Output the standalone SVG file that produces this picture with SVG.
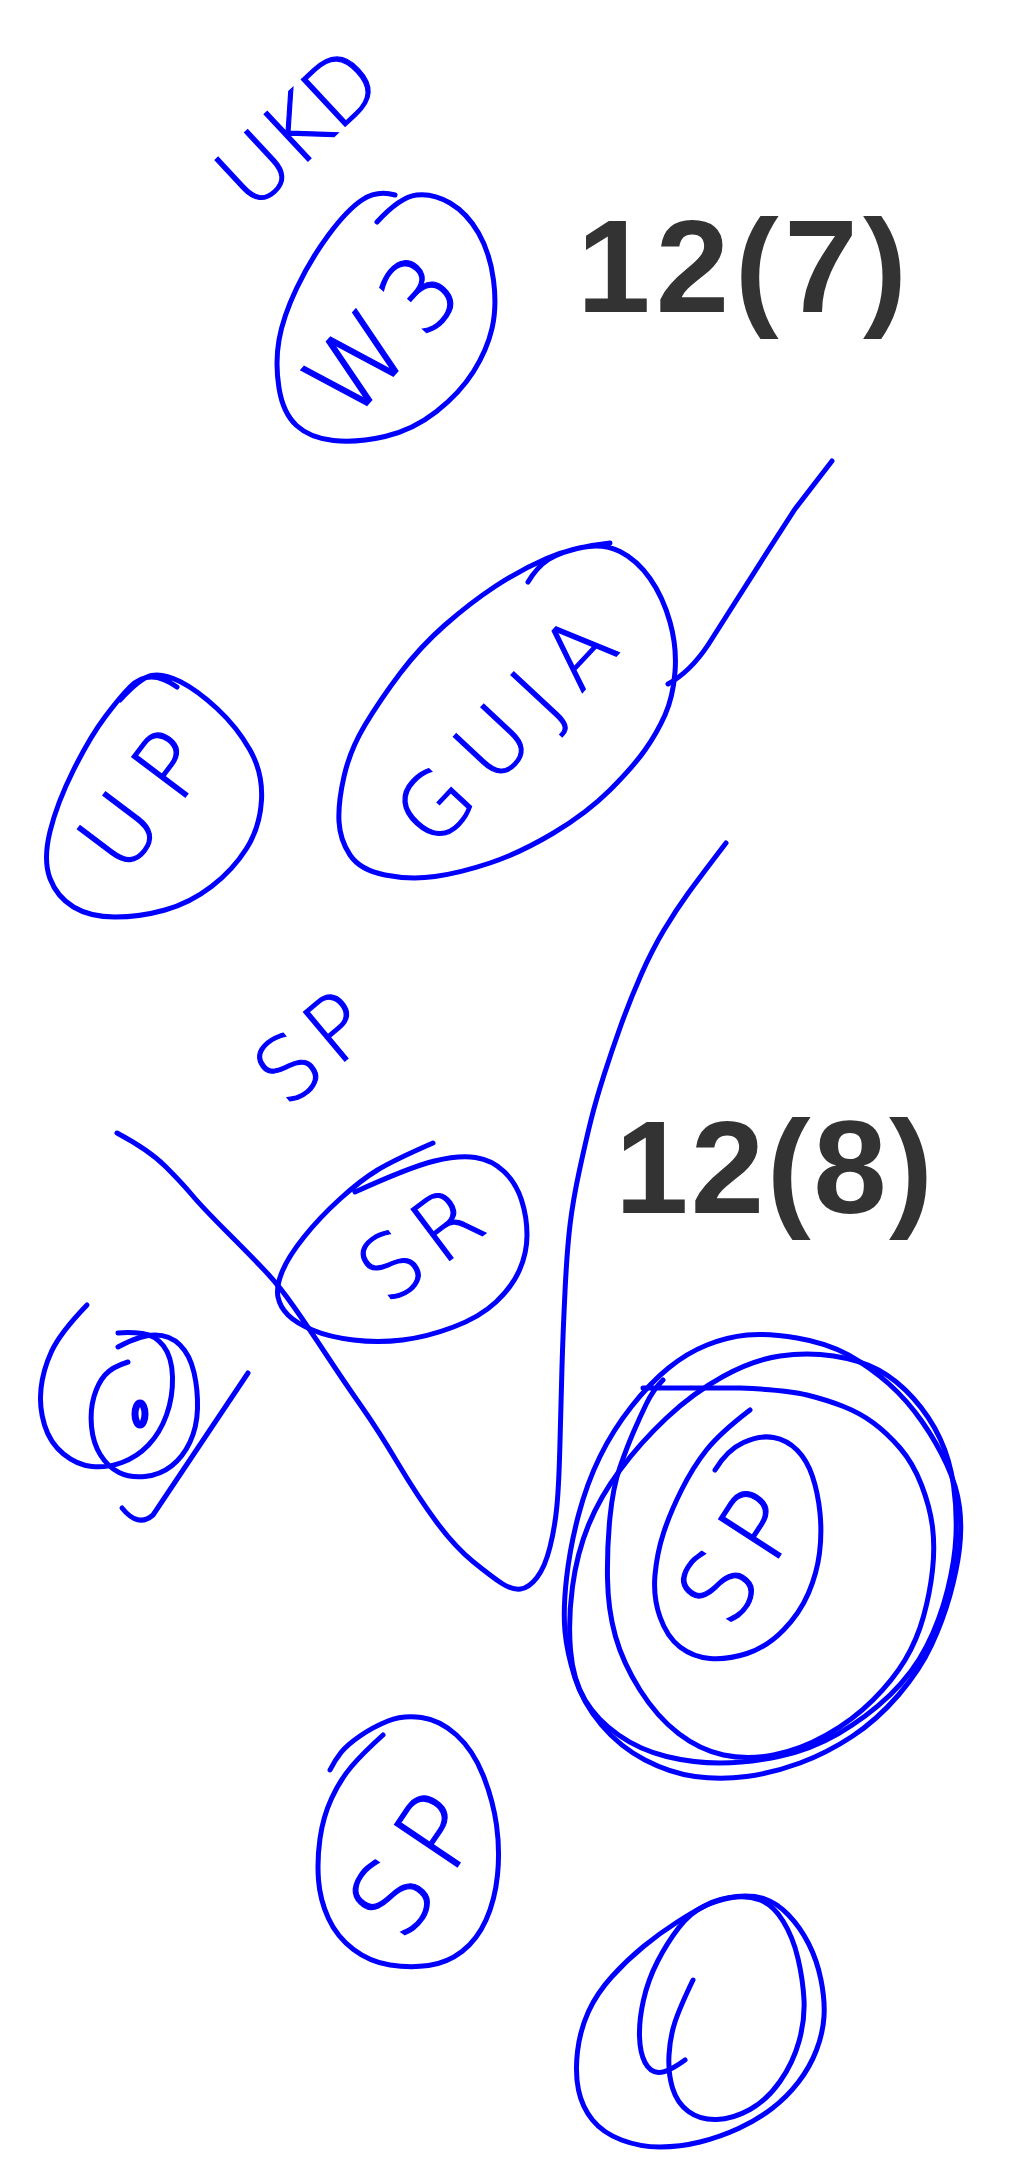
<svg xmlns="http://www.w3.org/2000/svg" width="1018" height="2157" viewBox="0 0 1018 2157">
<style>
.s{fill:none;stroke:#0000ff;stroke-width:5;stroke-linecap:round;stroke-linejoin:round}
.hw{font-family:"DejaVu Sans","Liberation Sans",sans-serif;font-weight:200;fill:#0000ff;stroke:#0000ff;stroke-width:1.2;text-anchor:middle}
.bk{font-family:"Liberation Sans",Arial,sans-serif;font-weight:bold;fill:#333333}
</style>
<rect width="1018" height="2157" fill="#ffffff"/>
<g id="connectors">
<path class="s" d="M832,461 L795,509 L764,557 L729,612 L708,645 Q690,672 668,684"/>
<path class="s" d="M117,1133 Q149,1150 165.5,1166.5 Q182,1183 192,1195 Q202,1207 228.5,1233.5 Q255,1260 267.5,1273.5 Q280,1287 294,1307 Q308,1327 326.5,1355 Q345,1383 361.5,1406.5 Q378,1430 398,1463.5 Q418,1497 436.5,1522 Q455,1547 473.5,1562 Q492,1577 502,1583.5 Q512,1590 520.5,1589 Q529,1588 537,1577.5 Q545,1567 550,1547 Q555,1527 557,1505 Q559,1483 560,1441.5 Q561,1400 562,1366.5 Q563,1333 565,1291.5 Q567,1250 570,1225 Q573,1200 579.5,1170 Q586,1140 591,1120 Q596,1100 604,1075 Q612,1050 621,1025 Q630,1000 641,975 Q652,950 664,930 Q676,910 688,893.5 Q700,877 726,843"/>
</g>
<g id="label-ukd">
<text class="hw" font-size="88" x="0" y="31" textLength="185" lengthAdjust="spacing" transform="translate(298,128) rotate(-43)">UKD</text>
</g>
<g id="node-w3">
<path class="s" d="M377,222 Q400,197 416.5,195 Q433,193 450,203 Q467,213 478.5,233 Q490,253 493.5,280 Q497,307 492,328.5 Q487,350 473.5,371.5 Q460,393 436.5,411.5 Q413,430 385,436.5 Q357,443 333.5,440.5 Q310,438 296.5,425.5 Q283,413 279,388 Q275,363 279,340 Q283,317 296.5,288.5 Q310,260 328.5,235 Q347,210 362,200 Q377,190 395,195"/>
<text class="hw" font-size="100" x="0" y="36" textLength="175" lengthAdjust="spacing" transform="translate(382,335) rotate(-48)">W3</text>
</g>
<g id="label-12-7">
<text class="bk" font-size="132" x="577" y="312" textLength="330" lengthAdjust="spacing">12(7)</text>
</g>
<g id="node-guja">
<path class="s" d="M528,582 Q537,567 548.5,559.5 Q560,552 581.5,547.5 Q603,543 620,551.5 Q637,560 650,578.5 Q663,597 670,622 Q677,647 675,672 Q673,697 665,715 Q657,733 645,750 Q633,767 610,790 Q587,813 553.5,833 Q520,853 490,863 Q460,873 435,876.5 Q410,880 385,875 Q360,870 350,855 Q340,840 339,821.5 Q338,803 344,776.5 Q350,750 365,725 Q380,700 400,673.5 Q420,647 445,625 Q470,603 495,586.5 Q520,570 546.5,558.5 Q573,547 610,543"/>
<text class="hw" font-size="88" x="0" y="31" textLength="275" lengthAdjust="spacing" transform="translate(505,730) rotate(-47)">GUJA</text>
</g>
<g id="node-up">
<path class="s" d="M177,687 Q163,677 151.5,677 Q140,677 130,687 Q120,697 105,717 Q90,737 73.5,770 Q57,803 50,831.5 Q43,860 50,878.5 Q57,897 73.5,907 Q90,917 115,917 Q140,917 165,910 Q190,903 211.5,886.5 Q233,870 246.5,848.5 Q260,827 261.5,800 Q263,773 250,750 Q237,727 217,708.5 Q197,690 180,681.5 Q163,673 151.5,675.5 Q140,678 120,700"/>
<text class="hw" font-size="92" x="0" y="33" textLength="145" lengthAdjust="spacing" transform="translate(142,800) rotate(-53)">UP</text>
</g>
<g id="label-sp">
<text class="hw" font-size="88" x="0" y="31" textLength="118" lengthAdjust="spacing" transform="translate(312,1048) rotate(-40)">SP</text>
</g>
<g id="node-sr">
<path class="s" d="M355,1192 Q410,1167 434.5,1161 Q459,1155 475.5,1157.5 Q492,1160 504,1171.5 Q516,1183 521.5,1200 Q527,1217 527,1235 Q527,1253 519.5,1270 Q512,1287 496,1302 Q480,1317 453.5,1327 Q427,1337 402.5,1340 Q378,1343 353.5,1340 Q329,1337 312.5,1330 Q296,1323 288,1315 Q280,1307 278,1297 Q276,1287 282,1272 Q288,1257 304,1237 Q320,1217 340.5,1198.5 Q361,1180 377.5,1170 Q394,1160 433,1143"/>
<text class="hw" font-size="88" x="0" y="31" textLength="128" lengthAdjust="spacing" transform="translate(420,1244) rotate(-37)">SR</text>
</g>
<g id="label-12-8">
<text class="bk" font-size="132" x="615" y="1213" textLength="318" lengthAdjust="spacing">12(8)</text>
</g>
<g id="spiral">
<path class="s" d="M87,1305 Q60,1333 51.5,1351.5 Q43,1370 41,1388.5 Q39,1407 44.5,1425 Q50,1443 63.5,1454 Q77,1465 92,1466.5 Q107,1468 122,1462.5 Q137,1457 148.5,1445 Q160,1433 166.5,1415 Q173,1397 172.5,1377 Q172,1357 163.5,1346 Q155,1335 142.5,1333.5 Q130,1332 118,1333"/>
<path class="s" d="M118,1347 Q140,1335 155,1335 Q170,1335 180,1345 Q190,1355 194,1372.5 Q198,1390 197.5,1408.5 Q197,1427 190,1442 Q183,1457 171.5,1466 Q160,1475 145,1476.5 Q130,1478 119,1472.5 Q108,1467 100.5,1455 Q93,1443 91.5,1426.5 Q90,1410 94,1396.5 Q98,1383 105,1375 Q112,1367 128,1362"/>
<ellipse cx="140" cy="1414" rx="5" ry="11" fill="none" stroke="#0000ff" stroke-width="7"/>
<path class="s" d="M122,1508 Q138,1528 153,1515 L248,1373"/>
</g>
<g id="node-sp-big">
<path class="s" d="M643,1388 L740,1388 Q787,1390 807,1395 Q827,1400 843.5,1406.5 Q860,1413 873.5,1423 Q887,1433 900,1448 Q913,1463 921.5,1485 Q930,1507 932.5,1527 Q935,1547 932.5,1570 Q930,1593 923.5,1616.5 Q917,1640 905,1660 Q893,1680 873,1700 Q853,1720 826.5,1735 Q800,1750 773.5,1755 Q747,1760 723.5,1755 Q700,1750 678.5,1733.5 Q657,1717 640,1690 Q623,1663 615.5,1636.5 Q608,1610 607.5,1578.5 Q607,1547 610,1517 Q613,1487 620,1467 Q627,1447 633.5,1432 Q640,1417 646.5,1403.5 Q653,1390 663,1380"/>
<path class="s" d="M797,1338 Q827,1343 848.5,1355 Q870,1367 888.5,1383.5 Q907,1400 922,1421.5 Q937,1443 947,1465 Q957,1487 959.5,1507 Q962,1527 959.5,1548.5 Q957,1570 950,1595 Q943,1620 931.5,1645 Q920,1670 898.5,1695 Q877,1720 852,1736.5 Q827,1753 800,1763 Q773,1773 746.5,1776.5 Q720,1780 695,1776.5 Q670,1773 645,1760 Q620,1747 601.5,1725 Q583,1703 575,1678 Q567,1653 565,1631.5 Q563,1610 566.5,1578.5 Q570,1547 578.5,1515 Q587,1483 600,1456.5 Q613,1430 631.5,1406.5 Q650,1383 668.5,1368 Q687,1353 707,1345 Q727,1337 747,1335 Q767,1333 797,1338 Z"/>
<path class="s" d="M833.5,1356 Q860,1360 878.5,1370 Q897,1380 913.5,1398.5 Q930,1417 940,1438.5 Q950,1460 953.5,1485 Q957,1510 956,1535 Q955,1560 947.5,1590 Q940,1620 926.5,1646.5 Q913,1673 890,1695 Q867,1717 838.5,1733.5 Q810,1750 778.5,1756.5 Q747,1763 720,1763 Q693,1763 666.5,1756.5 Q640,1750 618.5,1735 Q597,1720 585,1700 Q573,1680 570.5,1650 Q568,1620 572.5,1586.5 Q577,1553 588.5,1525 Q600,1497 620,1470 Q640,1443 666.5,1418 Q693,1393 723,1376.5 Q753,1360 780,1356 Q807,1352 833.5,1356 Z"/>
<path class="s" d="M715,1470 Q727,1450 743.5,1442.5 Q760,1435 773.5,1437.5 Q787,1440 797,1450 Q807,1460 812.5,1476.5 Q818,1493 820,1513 Q822,1533 819.5,1553 Q817,1573 808.5,1593 Q800,1613 783.5,1630 Q767,1647 747,1653.5 Q727,1660 710,1658.5 Q693,1657 680,1647 Q667,1637 660,1617 Q653,1597 655,1575 Q657,1553 663.5,1533 Q670,1513 681.5,1490 Q693,1467 706.5,1450 Q720,1433 750,1410"/>
<text class="hw" font-size="98" x="0" y="35" textLength="135" lengthAdjust="spacing" transform="translate(738,1556) rotate(-57)">SP</text>
</g>
<g id="node-sp-bottom">
<path class="s" d="M383,1735 Q363,1753 351.5,1766.5 Q340,1780 331.5,1798.5 Q323,1817 320,1838.5 Q317,1860 318.5,1880 Q320,1900 328.5,1918.5 Q337,1937 353.5,1949.5 Q370,1962 390,1965 Q410,1968 428.5,1965.5 Q447,1963 462,1951.5 Q477,1940 486,1920 Q495,1900 497.5,1875 Q500,1850 496.5,1825 Q493,1800 483,1775 Q473,1750 456.5,1735 Q440,1720 421.5,1717.5 Q403,1715 388,1721 Q373,1727 360,1736 Q347,1745 341,1752.5 Q335,1760 330,1770"/>
<text class="hw" font-size="104" x="0" y="37" textLength="145" lengthAdjust="spacing" transform="translate(414,1865) rotate(-56)">SP</text>
</g>
<g id="node-bottom-right">
<path class="s" d="M736.5,1896.5 Q753,1895 765,1899 Q777,1903 788.5,1915 Q800,1927 808.5,1943.5 Q817,1960 821,1980 Q825,2000 824,2016.5 Q823,2033 816.5,2050 Q810,2067 798.5,2082 Q787,2097 772,2108.5 Q757,2120 738.5,2128.5 Q720,2137 700,2142 Q680,2147 660,2147 Q640,2147 621.5,2140 Q603,2133 592.5,2120 Q582,2107 578.5,2090 Q575,2073 577.5,2051.5 Q580,2030 588.5,2011.5 Q597,1993 612,1976.5 Q627,1960 643.5,1946.5 Q660,1933 676.5,1922.5 Q693,1912 706.5,1905 Q720,1898 736.5,1896.5 Z"/>
<path class="s" d="M693,1980 Q680,2007 675,2022 Q670,2037 669,2055 Q668,2073 672.5,2088 Q677,2103 688.5,2111.5 Q700,2120 716.5,2119.5 Q733,2119 750,2109.5 Q767,2100 780,2081.5 Q793,2063 799,2041.5 Q805,2020 804,2000 Q803,1980 798,1958.5 Q793,1937 783,1921 Q773,1905 760,1900 Q747,1895 732,1897.5 Q717,1900 703.5,1906.5 Q690,1913 678.5,1928 Q667,1943 657.5,1961.5 Q648,1980 643.5,2000 Q639,2020 639.5,2036.5 Q640,2053 645,2062.5 Q650,2072 658.5,2072.5 Q667,2073 685,2060"/>
</g>
</svg>
